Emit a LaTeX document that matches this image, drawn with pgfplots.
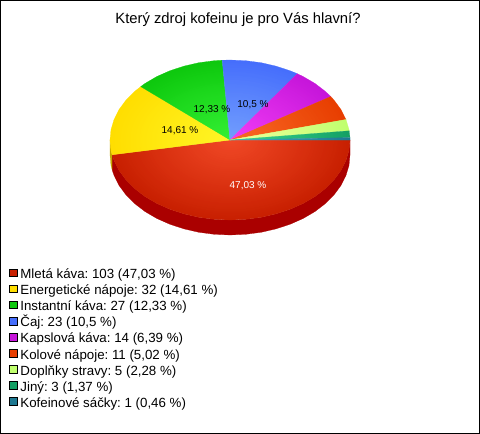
\documentclass[border=0pt]{standalone}
\usepackage{fontspec}
\setmainfont{Liberation Sans}
\usepackage{pgfplots}
\pgfplotsset{compat=1.18}
\usetikzlibrary{fadings}

\definecolor{cRed}{RGB}{200,32,0}
\definecolor{cYellow}{RGB}{255,222,0}
\definecolor{cGreen}{RGB}{14,200,14}
\definecolor{cBlue}{RGB}{70,110,252}
\definecolor{cMagenta}{RGB}{198,22,218}
\definecolor{cOrange}{RGB}{232,62,0}
\definecolor{cLime}{RGB}{192,255,110}
\definecolor{cTeal}{RGB}{20,160,100}
\definecolor{cPetrol}{RGB}{30,120,145}
\definecolor{cRedSide}{RGB}{170,0,0}
\definecolor{cYellowSide}{RGB}{196,168,0}
\definecolor{cDodge}{gray}{0.3}

\tikzfading[name=piefade, inner color=transparent!30, outer color=transparent!100]
\tikzfading[name=piefadeb, inner color=transparent!85, outer color=transparent!100]

\begin{document}
\frenchspacing
\begin{tikzpicture}[x=1bp,y=1bp]
\begin{axis}[
    scale only axis, width=479bp, height=433bp,
    xmin=0.5, xmax=479.5, ymin=0.5, ymax=433.5, y dir=reverse,
    ticks=none,
    axis line style={black, line width=1bp},
    legend style={at={(axis cs:9,268.5)}, anchor=north west, draw=none, fill=none,
        font=\fontsize{13.3bp}{13.3bp}\selectfont, row sep=3.1bp, inner sep=0pt, outer sep=0pt,
        nodes={inner sep=0pt, outer sep=0pt, text height=10bp, text depth=3bp}},
    legend cell align=left,
    legend image code/.code={
        \draw[#1, draw=black, line width=0.6bp] (0bp,-1.5bp) rectangle (7.6bp,6.1bp);
        \path (11bp,0bp);
    },
]
% side of the pie
\addplot[forget plot, draw=cRedSide, fill=cRedSide, line width=0.2bp] coordinates {
    (350,140) (349,150.4) (345.9,160.7) (340.9,170.6) (333.9,180) (325.2,188.7) (314.9,196.6)
    (303.1,203.5) (290,209.3) (275.9,213.9) (261.1,217.3) (245.7,219.3) (230,220)
    (214.3,219.3) (198.9,217.3) (184.1,213.9) (170,209.3) (156.9,203.5) (145.1,196.6)
    (134.8,188.7) (126.1,180) (119.1,170.6) (114.1,160.7) (112.1,154.8)
    (112.1,169.8) (114.1,175.7) (119.1,185.6) (126.1,195) (134.8,203.7) (145.1,211.6)
    (156.9,218.5) (170,224.3) (184.1,228.9) (198.9,232.3) (214.3,234.3) (230,235)
    (245.7,234.3) (261.1,232.3) (275.9,228.9) (290,224.3) (303.1,218.5) (314.9,211.6)
    (325.2,203.7) (333.9,195) (340.9,185.6) (345.9,175.7) (349,165.4) (350,155)
} --cycle;
\addplot[forget plot, draw=cYellowSide, fill=cYellowSide, line width=0.2bp] coordinates {
    (112.1,154.8) (111,150.4) (110,140) (110,155) (111,165.4) (112.1,169.8)
} --cycle;
% top face, one polygon per slice
\addplot[draw=cRed, fill=cRed, line width=0.2bp] coordinates {
    (230,140) (350,140) (349,150.4) (345.9,160.7) (340.9,170.6) (333.9,180) (325.2,188.7)
    (314.9,196.6) (303.1,203.5) (290,209.3) (275.9,213.9) (261.1,217.3) (245.7,219.3)
    (230,220) (214.3,219.3) (198.9,217.3) (184.1,213.9) (170,209.3) (156.9,203.5)
    (145.1,196.6) (134.8,188.7) (126.1,180) (119.1,170.6) (114.1,160.7) (112.1,154.8)
} --cycle;
\addlegendentry{Mletá káva: 103 (47,03 \%)}
\addplot[draw=cYellow, fill=cYellow, line width=0.2bp] coordinates {
    (230,140) (112.1,154.8) (111,150.4) (110,140) (111,129.6) (114.1,119.3) (119.1,109.4)
    (126.1,100) (134.8,91.3) (140.7,86.6)
} --cycle;
\addlegendentry{Energetické nápoje: 32 (14,61 \%)}
\addplot[draw=cGreen, fill=cGreen, line width=0.2bp] coordinates {
    (230,140) (140.7,86.6) (145.1,83.4) (156.9,76.5) (170,70.7) (184.1,66.1) (198.9,62.7)
    (214.3,60.7) (222.2,60.2)
} --cycle;
\addlegendentry{Instantní káva: 27 (12,33 \%)}
\addplot[draw=cBlue, fill=cBlue, line width=0.2bp] coordinates {
    (230,140) (222.2,60.2) (230,60) (245.7,60.7) (261.1,62.7) (275.9,66.1) (290,70.7) (297.3,73.7)
} --cycle;
\addlegendentry{Čaj: 23 (10,5 \%)}
\addplot[draw=cMagenta, fill=cMagenta, line width=0.2bp] coordinates {
    (230,140) (297.3,73.7) (303.1,76.5) (314.9,83.4) (325.2,91.3) (330.8,96.5)
} --cycle;
\addlegendentry{Kapslová káva: 14 (6,39 \%)}
\addplot[draw=cOrange, fill=cOrange, line width=0.2bp] coordinates {
    (230,140) (330.8,96.5) (333.9,100) (340.9,109.4) (346,119.5)
} --cycle;
\addlegendentry{Kolové nápoje: 11 (5,02 \%)}
\addplot[draw=cLime, fill=cLime, line width=0.2bp] coordinates {
    (230,140) (346,119.5) (349,129.6) (349.2,130.8)
} --cycle;
\addlegendentry{Doplňky stravy: 5 (2,28 \%)}
\addplot[draw=cTeal, fill=cTeal, line width=0.2bp] coordinates {
    (230,140) (349.2,130.8) (350,137.6)
} --cycle;
\addlegendentry{Jiný: 3 (1,37 \%)}
\addplot[draw=cPetrol, fill=cPetrol, line width=0.2bp] coordinates {
    (230,140) (350,137.6) (350,140)
} --cycle;
\addlegendentry{Kofeinové sáčky: 1 (0,46 \%)}
% lighter toward the centre
\addplot[forget plot, draw=none, fill=cDodge, blend mode=color dodge, path fading=piefade] coordinates {
    (350,140) (349,150.4) (345.9,160.7) (340.9,170.6) (333.9,180) (325.2,188.7) (314.9,196.6)
    (303.1,203.5) (290,209.3) (275.9,213.9) (261.1,217.3) (245.7,219.3) (230,220)
    (214.3,219.3) (198.9,217.3) (184.1,213.9) (170,209.3) (156.9,203.5) (145.1,196.6)
    (134.8,188.7) (126.1,180) (119.1,170.6) (114.1,160.7) (111,150.4) (110,140)
    (111,129.6) (114.1,119.3) (119.1,109.4) (126.1,100) (134.8,91.3) (145.1,83.4)
    (156.9,76.5) (170,70.7) (184.1,66.1) (198.9,62.7) (214.3,60.7) (230,60)
    (245.7,60.7) (261.1,62.7) (275.9,66.1) (290,70.7) (303.1,76.5) (314.9,83.4)
    (325.2,91.3) (333.9,100) (340.9,109.4) (345.9,119.3) (349,129.6)
} --cycle;
\addplot[forget plot, draw=none, fill=white, path fading=piefadeb] coordinates {
    (350,140) (349,150.4) (345.9,160.7) (340.9,170.6) (333.9,180) (325.2,188.7) (314.9,196.6)
    (303.1,203.5) (290,209.3) (275.9,213.9) (261.1,217.3) (245.7,219.3) (230,220)
    (214.3,219.3) (198.9,217.3) (184.1,213.9) (170,209.3) (156.9,203.5) (145.1,196.6)
    (134.8,188.7) (126.1,180) (119.1,170.6) (114.1,160.7) (111,150.4) (110,140)
    (111,129.6) (114.1,119.3) (119.1,109.4) (126.1,100) (134.8,91.3) (145.1,83.4)
    (156.9,76.5) (170,70.7) (184.1,66.1) (198.9,62.7) (214.3,60.7) (230,60)
    (245.7,60.7) (261.1,62.7) (275.9,66.1) (290,70.7) (303.1,76.5) (314.9,83.4)
    (325.2,91.3) (333.9,100) (340.9,109.4) (345.9,119.3) (349,129.6)
} --cycle;
\node[font=\fontsize{14.8bp}{14.8bp}\selectfont] at (axis cs:238,19.5) {Který zdroj kofeinu je pro Vás hlavní?};
\node[font=\fontsize{10bp}{10bp}\selectfont, text=white] at (axis cs:248,186) {47,03 \%};
\node[font=\fontsize{10bp}{10bp}\selectfont] at (axis cs:180,131) {14,61 \%};
\node[font=\fontsize{10bp}{10bp}\selectfont] at (axis cs:212,110) {12,33 \%};
\node[font=\fontsize{10bp}{10bp}\selectfont] at (axis cs:253,105) {10,5 \%};
\end{axis}
\end{tikzpicture}
\end{document}
